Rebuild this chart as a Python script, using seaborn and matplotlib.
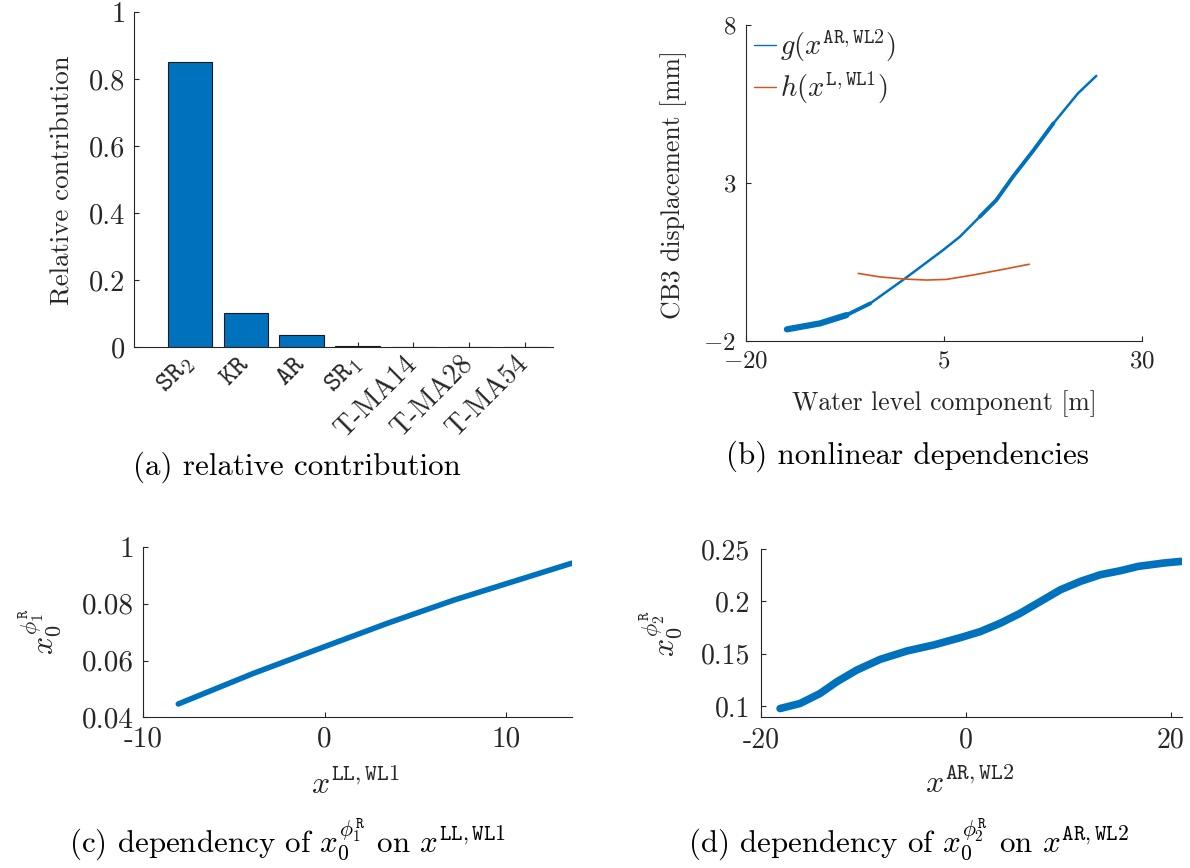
import matplotlib
matplotlib.use("Agg")
import matplotlib.pyplot as plt
import seaborn as sns

sns.set_style("ticks")
plt.rcParams["font.family"] = ["cmr10", "DejaVu Serif"]
plt.rcParams["mathtext.fontset"] = "cm"
plt.rcParams["axes.unicode_minus"] = False
plt.rcParams["axes.formatter.use_mathtext"] = True

BLUE = "#0072BD"
ORANGE = "#D95319"
INK = "#262626"

# (a) relative contribution of each input
contrib_names = ["SR2", "KR", "AR", "SR1", "T-MA14", "T-MA28", "T-MA54"]
contrib_ticklabels = [r"$\mathtt{SR_2}$", r"$\mathtt{KR}$", r"$\mathtt{AR}$",
                      r"$\mathtt{SR_1}$", "T-MA14", "T-MA28", "T-MA54"]
contrib_values = [0.850, 0.104, 0.038, 0.004, 0.001, 0.001, 0.001]
contrib_yticks = [0, 0.2, 0.4, 0.6, 0.8, 1.0]
contrib_yticklabels = ["0", "0.2", "0.4", "0.6", "0.8", "1"]

# (b) nonlinear dependencies of the CB3 displacement
g_x = [-14.8, -10.6, -7.3, -4.3, 0.1, 4.9, 7.0, 9.5, 11.6, 13.7, 16.3, 18.8, 21.9, 24.2]
g_y = [-1.63, -1.44, -1.18, -0.81, -0.02, 0.88, 1.30, 1.93, 2.46, 3.20, 4.04, 4.89, 5.84, 6.39]
h_x = [-5.8, -3.1, 0.1, 2.8, 5.3, 8.7, 12.5, 15.75]
h_y = [0.14, 0.03, -0.04, -0.07, -0.05, 0.09, 0.27, 0.43]

# (c) x0^{phi1^R} against x^{LL,WL1}
c_x = [-8.07, -3.92, 0.0, 3.45, 7.13, 9.98, 13.63]
c_y = [0.0447, 0.0555, 0.0649, 0.0731, 0.0813, 0.0870, 0.0943]
c_yticks = [0.04, 0.06, 0.08, 0.10]
c_yticklabels = ["0.04", "0.06", "0.08", "1"]

# (d) x0^{phi2^R} against x^{AR,WL2}
d_x = [-18.14, -16.19, -14.23, -12.60, -10.65, -8.37, -5.76, -3.16, -0.55, 1.41,
       3.36, 5.32, 7.27, 9.23, 11.18, 13.14, 15.09, 16.81, 19.38, 21.04]
d_y = [0.0978, 0.1026, 0.1122, 0.1233, 0.1345, 0.1447, 0.1527, 0.1584, 0.1654, 0.1712,
       0.1792, 0.1888, 0.1999, 0.2111, 0.2191, 0.2255, 0.2293, 0.2334, 0.2367, 0.2382]

fig = plt.figure(figsize=(11.9, 8.68), dpi=100)
fig.patch.set_facecolor("white")


def style_axes(ax, size, pad):
    sns.despine(ax=ax)
    for side in ("left", "bottom"):
        ax.spines[side].set_color(INK)
        ax.spines[side].set_linewidth(0.8)
    ax.tick_params(direction="in", length=3.5, width=0.8, color=INK,
                   labelcolor=INK, labelsize=size, pad=pad)


# ---- (a) bar chart
ax_a = fig.add_axes([0.1129, 0.5997, 0.3518, 0.3865])
sns.barplot(x=contrib_names, y=contrib_values, color=BLUE, saturation=1,
            edgecolor="#1a1a1a", linewidth=0.8, width=0.8, errorbar=None, ax=ax_a)
ax_a.set_xlim(-1.0, 6.5)
ax_a.set_ylim(0, 1)
ax_a.set_yticks(contrib_yticks)
ax_a.set_yticklabels(contrib_yticklabels)
ax_a.set_xticks(range(len(contrib_names)))
style_axes(ax_a, 20.5, 6.5)
ax_a.set_xticklabels(contrib_ticklabels, rotation=45, ha="right", va="center",
                     rotation_mode="anchor", fontsize=20)
ax_a.tick_params(axis="x", pad=9)
ax_a.set_xlabel("")
ax_a.set_ylabel("Relative contribution", fontsize=19.3, color=INK)
ax_a.yaxis.set_label_coords(-0.144, 0.499)

# ---- (b) nonlinear dependencies
ax_b = fig.add_axes([0.6266, 0.6071, 0.3333, 0.3641])
sns.lineplot(x=g_x, y=g_y, color=BLUE, linewidth=1.8, sort=False, estimator=None,
             ax=ax_b, label=r"$g(x^{\mathtt{AR,WL2}})$")
sns.lineplot(x=h_x, y=h_y, color=ORANGE, linewidth=1.2, sort=False, estimator=None,
             ax=ax_b, label=r"$h(x^{\mathtt{L,WL1}})$")
# the g samples scatter more widely at the low end and on the steep part
sns.lineplot(x=g_x[:3], y=g_y[:3], color=BLUE, linewidth=4.5, sort=False,
             estimator=None, ax=ax_b, legend=False, solid_capstyle="round")
sns.lineplot(x=g_x[:4], y=g_y[:4], color=BLUE, linewidth=2.8, sort=False,
             estimator=None, ax=ax_b, legend=False, solid_capstyle="round")
sns.lineplot(x=g_x[7:12], y=g_y[7:12], color=BLUE, linewidth=2.8, sort=False,
             estimator=None, ax=ax_b, legend=False, solid_capstyle="round",
             solid_joinstyle="round")
ax_b.set_xlim(-20, 30)
ax_b.set_ylim(-2, 8)
ax_b.set_xticks([-20, 5, 30])
ax_b.set_xticklabels([r"$-20$", r"$5$", r"$30$"])
ax_b.set_yticks([-2, 3, 8])
ax_b.set_yticklabels([r"$-2$", r"$3$", r"$8$"])
style_axes(ax_b, 18, 7)
ax_b.set_xlabel("Water level component [m]", fontsize=18.5, color=INK)
ax_b.set_ylabel("CB3 displacement [mm]", fontsize=18.5, color=INK)
ax_b.xaxis.set_label_coords(0.5, -0.155)
ax_b.yaxis.set_label_coords(-0.148, 0.494)
leg = ax_b.legend(loc="upper left", bbox_to_anchor=(0.02, 0.99), frameon=False,
                  fontsize=20.5, handlelength=0.8, handletextpad=0.12,
                  borderpad=0.0, borderaxespad=0.0, labelspacing=0.2)
for line in leg.get_lines():
    line.set_linewidth(1.0)

# ---- (c)
ax_c = fig.add_axes([0.1204, 0.1736, 0.3601, 0.1962])
sns.lineplot(x=c_x, y=c_y, color=BLUE, linewidth=4.0, sort=False, estimator=None,
             ax=ax_c, solid_capstyle="round")
ax_c.set_xlim(-10, 13.63)
ax_c.set_ylim(0.04, 0.10)
ax_c.set_xticks([-10, 0, 10])
ax_c.set_xticklabels(["-10", "0", "10"])
ax_c.set_yticks(c_yticks)
ax_c.set_yticklabels(c_yticklabels)
style_axes(ax_c, 21, 6.5)
ax_c.set_xlabel(r"$x^{\mathtt{LL,WL1}}$", fontsize=23, color=INK)
ax_c.set_ylabel(r"$x_0^{\phi_1^{\mathtt{R}}}$", fontsize=23, color=INK)
ax_c.xaxis.set_label_coords(0.495, -0.30)
ax_c.yaxis.set_label_coords(-0.185, 0.50)

# ---- (d)
ax_d = fig.add_axes([0.6395, 0.1743, 0.3538, 0.1932])
sns.lineplot(x=d_x, y=d_y, color=BLUE, linewidth=5.5, sort=False, estimator=None,
             ax=ax_d, solid_capstyle="round", solid_joinstyle="round")
ax_d.set_xlim(-20, 21.1)
ax_d.set_ylim(0.09, 0.25)
ax_d.set_xticks([-20, 0, 20])
ax_d.set_xticklabels(["-20", "0", "20"])
ax_d.set_yticks([0.10, 0.15, 0.20, 0.25])
ax_d.set_yticklabels(["0.1", "0.15", "0.2", "0.25"])
style_axes(ax_d, 20, 7.5)
ax_d.set_xlabel(r"$x^{\mathtt{AR,WL2}}$", fontsize=23, color=INK)
ax_d.set_ylabel(r"$x_0^{\phi_2^{\mathtt{R}}}$", fontsize=23, color=INK)
ax_d.xaxis.set_label_coords(0.495, -0.30)
ax_d.yaxis.set_label_coords(-0.18, 0.493)

# ---- sub-captions
cap = dict(fontsize=22.3, color="black", ha="center", va="baseline")
fig.text(297 / 1190, 1 - 475 / 868, "(a) relative contribution", **cap)
fig.text(907 / 1190, 1 - 464 / 868, "(b) nonlinear dependencies", **cap)
fig.text(287.7 / 1190, 1 - 852 / 868,
         r"(c) dependency of $x_0^{\phi_1^{\mathtt{R}}}$ on $x^{\mathtt{LL,WL1}}$", **cap)
fig.text(908.3 / 1190, 1 - 852 / 868,
         r"(d) dependency of $x_0^{\phi_2^{\mathtt{R}}}$ on $x^{\mathtt{AR,WL2}}$", **cap)

fig.savefig("out.png", dpi=100, facecolor="white")
